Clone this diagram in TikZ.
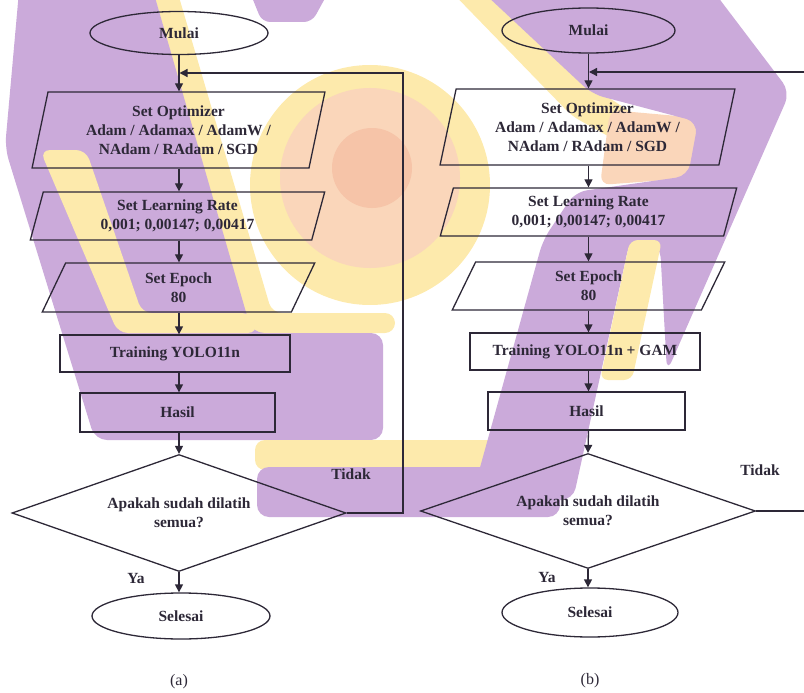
\documentclass[tikz,border=0pt]{standalone}
\usepackage{fontspec}
\setmainfont{Liberation Serif}
\usetikzlibrary{shapes.geometric,arrows.meta}

\definecolor{ink}{RGB}{45,40,55}
\definecolor{wmpurple}{RGB}{203,170,218}
\definecolor{wmyellow}{RGB}{253,234,172}
\definecolor{wmpeach}{RGB}{250,214,186}
\definecolor{wmorange}{RGB}{246,196,168}

\tikzset{
  lbl/.style={font=\fontsize{15.5}{19}\selectfont\bfseries, text=ink, align=center},
  term/.style={ellipse, draw=ink, line width=1.3pt, inner sep=0pt, lbl},
  io/.style={trapezium, trapezium left angle=77, trapezium right angle=103,
             trapezium stretches=true, draw=ink, line width=1.3pt, inner sep=0pt, lbl},
  proc/.style={rectangle, draw=ink, line width=1.3pt, inner sep=0pt, lbl},
  decide/.style={diamond, aspect=2.85, draw=ink, line width=1.3pt, inner sep=0pt, lbl},
  flow/.style={draw=ink, line width=1.3pt, -{Triangle[length=8pt,width=8pt]}},
  note/.style={lbl},
  figcap/.style={font=\fontsize{16}{19}\selectfont, text=ink},
}

\begin{document}
\begin{tikzpicture}[x=1pt,y=-1pt]
\useasboundingbox (0,0) rectangle (804,693);
\clip (0,0) rectangle (804,693);

% ---------- background logo ----------
\fill[wmyellow] (370,185) circle[radius=120];
\fill[wmpeach] (370,178) circle[radius=90];
\fill[wmorange] (372,168) circle[radius=40];
% left arm
\fill[wmyellow, rounded corners=10pt] (150,-20) -- (174,-20) -- (272,313) -- (395,313) -- (395,333) -- (250,333) -- cycle;
\fill[wmpurple, rounded corners=12pt] (20,-20) -- (150,-20) -- (252,333) -- (383,333) -- (383,440) -- (95,440) -- (5,148) -- cycle;
\fill[wmyellow, rounded corners=10pt] (40,150) -- (86,150) -- (142,313) -- (252,313) -- (258,333) -- (118,333) -- cycle;
\fill[wmpurple, rounded corners=8pt] (245,-20) -- (335,-20) -- (312,22) -- (262,22) -- cycle;
% bottom bar
\fill[wmyellow, rounded corners=10pt] (255,440) rectangle (560,470);
\fill[wmpurple, rounded corners=12pt] (257,467) rectangle (560,517);
% right arm
\fill[wmyellow, rounded corners=8pt] (440,-20) -- (476,-20) -- (600,92) -- (640,118) -- (615,140) -- (572,116) -- cycle;
\fill[wmpeach, rounded corners=10pt] (610,110) -- (700,118) -- (692,178) -- (600,185) -- cycle;
\fill[wmpurple, rounded corners=12pt] (470,-20) -- (705,-20) -- (790,92) -- (667,372) -- (660,245)
      -- (630,240) -- (573,500) -- (471,500) -- (543,240) -- (575,192) -- (688,176) -- (698,122)
      -- (592,94) -- cycle;
\fill[wmyellow, rounded corners=8pt] (630,240) -- (662,240) -- (632,380) -- (600,380) -- cycle;

% ---------- flowchart (a) ----------
\node[term, minimum width=178pt, minimum height=43pt] (mulA) at (179,33) {Mulai};
\node[io, minimum width=293pt, minimum height=76pt] (optA) at (178.5,130)
  {Set Optimizer\\Adam / Adamax / AdamW /\\NAdam / RAdam / SGD};
\node[io, minimum width=295pt, minimum height=48pt] (lrA) at (177.5,216)
  {Set Learning Rate\\0,001; 0,00147; 0,00417};
\node[io, minimum width=273pt, minimum height=49pt] (epA) at (178.5,287.5)
  {Set Epoch\\80};
\node[proc, minimum width=230pt, minimum height=37pt] (trA) at (175,353.5) {Training YOLO11n};
\node[proc, minimum width=195pt, minimum height=39pt] (haA) at (177.5,412.5) {Hasil};
\node[decide, minimum width=334pt, minimum height=117pt] (dA) at (179,513)
  {Apakah sudah dilatih\\semua?};
\node[term, minimum width=178pt, minimum height=46pt] (seA) at (181,616) {Selesai};

\coordinate (cornA) at (403,73);
\coordinate (joinA) at (179.5,73);

\draw[flow] (mulA.south) -- (mulA.south |- optA.north);
\draw[flow] (mulA.south |- optA.south) -- (mulA.south |- lrA.north);
\draw[flow] (mulA.south |- lrA.south) -- (mulA.south |- epA.north);
\draw[flow] (mulA.south |- epA.south) -- (mulA.south |- trA.north);
\draw[flow] (mulA.south |- trA.south) -- (mulA.south |- haA.north);
\draw[flow] (mulA.south |- haA.south) -- (dA.north);
\draw[flow] (dA.south) -- (dA.south |- seA.north);
\draw[flow] (dA.east) -| (cornA) -- (joinA);

\node[note] (tidA) at (351,474) {Tidak};
\node[note] (yaA) at (136,578) {Ya};
\node[figcap] (capA) at (179,682) {(a)};

% ---------- flowchart (b) ----------
\node[term, minimum width=173pt, minimum height=45pt] (mulB) at (588.5,30.5) {Mulai};
\node[io, minimum width=295pt, minimum height=76pt] (optB) at (587.5,127)
  {Set Optimizer\\Adam / Adamax / AdamW /\\NAdam / RAdam / SGD};
\node[io, minimum width=297pt, minimum height=48pt] (lrB) at (588.5,212)
  {Set Learning Rate\\0,001; 0,00147; 0,00417};
\node[io, minimum width=273pt, minimum height=48pt] (epB) at (588.5,286)
  {Set Epoch\\80};
\node[proc, minimum width=230pt, minimum height=37pt] (trB) at (585,351.5) {Training YOLO11n + GAM};
\node[proc, minimum width=197pt, minimum height=38pt] (haB) at (586.5,411) {Hasil};
\node[decide, minimum width=335pt, minimum height=115pt] (dB) at (588,511)
  {Apakah sudah dilatih\\semua?};
\node[term, minimum width=176pt, minimum height=49pt] (seB) at (590,612.5) {Selesai};

\coordinate (cornB) at (812,72);
\coordinate (joinB) at (589,72);

\draw[flow] (mulB.south) -- (mulB.south |- optB.north);
\draw[flow] (mulB.south |- optB.south) -- (mulB.south |- lrB.north);
\draw[flow] (mulB.south |- lrB.south) -- (mulB.south |- epB.north);
\draw[flow] (mulB.south |- epB.south) -- (mulB.south |- trB.north);
\draw[flow] (mulB.south |- trB.south) -- (mulB.south |- haB.north);
\draw[flow] (mulB.south |- haB.south) -- (dB.north);
\draw[flow] (dB.south) -- (dB.south |- seB.north);
\draw[flow] (dB.east) -| (cornB) -- (joinB);

\node[note] (tidB) at (760,470) {Tidak};
\node[note] (yaB) at (547,577) {Ya};
\node[figcap] (capB) at (590,681) {(b)};
\end{tikzpicture}
\end{document}
